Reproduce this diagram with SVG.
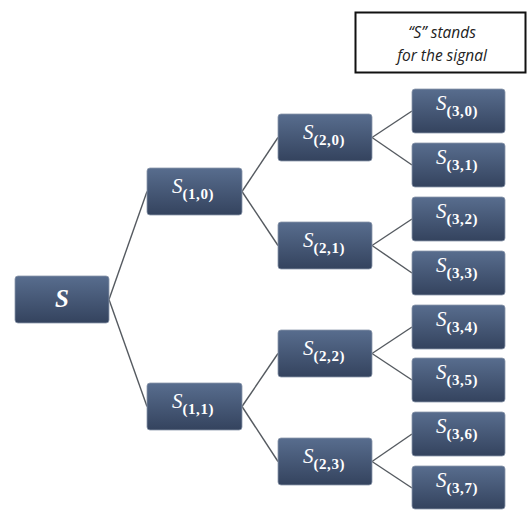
<svg xmlns="http://www.w3.org/2000/svg" width="530" height="510" viewBox="0 0 530 510">
<defs>
<linearGradient id="g" x1="0" y1="0" x2="0" y2="1">
<stop offset="0" stop-color="#586d8e"/>
<stop offset="1" stop-color="#34435e"/>
</linearGradient>
<style>
.box{fill:url(#g);stroke:#8a97ab;stroke-width:0.8}
.t{fill:#ffffff;font-family:"Liberation Serif","DejaVu Serif",serif;text-anchor:middle}
.s{font-style:italic;font-size:21px}
.sub{font-size:15px;font-weight:bold;letter-spacing:0.6px}
.c line{stroke:#555a60;stroke-width:1.4}
.note{font-family:"Open Sans","Liberation Sans",sans-serif;font-style:italic;font-size:15.5px;fill:#222;text-anchor:middle}
</style>
</defs>
<rect width="530" height="510" fill="#ffffff"/>
<g id="legend">
<rect x="355.5" y="12.5" width="170" height="60" fill="#fff" stroke="#111" stroke-width="2"/>
<text class="note" x="442" y="38">“S” stands</text>
<text class="note" x="442" y="61">for the signal</text>
</g>
<g class="c" id="connectors">
<line x1="109" y1="299.5" x2="147" y2="191.5"/>
<line x1="109" y1="299.5" x2="147" y2="406.5"/>
<line x1="242" y1="191.5" x2="278" y2="137.5"/>
<line x1="242" y1="191.5" x2="278" y2="245.5"/>
<line x1="242" y1="406.5" x2="278" y2="353.5"/>
<line x1="242" y1="406.5" x2="278" y2="461.5"/>
<line x1="372" y1="137.5" x2="412" y2="111"/>
<line x1="372" y1="137.5" x2="412" y2="165"/>
<line x1="372" y1="245.5" x2="412" y2="219"/>
<line x1="372" y1="245.5" x2="412" y2="273"/>
<line x1="372" y1="353.5" x2="412" y2="327"/>
<line x1="372" y1="353.5" x2="412" y2="380"/>
<line x1="372" y1="461.5" x2="412" y2="434"/>
<line x1="372" y1="461.5" x2="412" y2="488"/>
</g>
<g id="S">
<rect class="box" x="15" y="276" width="94" height="47" rx="3"/>
<text class="t" x="62" y="307" style="font-style:italic;font-weight:bold;font-size:25px">S</text>
</g>
<g id="S10">
<rect class="box" x="147" y="168" width="95" height="47" rx="3"/>
<text class="t" x="193" y="193"><tspan class="s">S</tspan><tspan class="sub" dy="6">(1,0)</tspan></text>
</g>
<g id="S11">
<rect class="box" x="147" y="383" width="95" height="47" rx="3"/>
<text class="t" x="193" y="408"><tspan class="s">S</tspan><tspan class="sub" dy="6">(1,1)</tspan></text>
</g>
<g id="S20">
<rect class="box" x="278" y="114" width="94" height="47" rx="3"/>
<text class="t" x="324" y="139"><tspan class="s">S</tspan><tspan class="sub" dy="6">(2,0)</tspan></text>
</g>
<g id="S21">
<rect class="box" x="278" y="222" width="94" height="47" rx="3"/>
<text class="t" x="324" y="247"><tspan class="s">S</tspan><tspan class="sub" dy="6">(2,1)</tspan></text>
</g>
<g id="S22">
<rect class="box" x="278" y="330" width="94" height="47" rx="3"/>
<text class="t" x="324" y="355"><tspan class="s">S</tspan><tspan class="sub" dy="6">(2,2)</tspan></text>
</g>
<g id="S23">
<rect class="box" x="278" y="438" width="94" height="47" rx="3"/>
<text class="t" x="324" y="463"><tspan class="s">S</tspan><tspan class="sub" dy="6">(2,3)</tspan></text>
</g>
<g id="S30">
<rect class="box" x="412" y="89" width="93" height="44" rx="3"/>
<text class="t" x="457" y="110"><tspan class="s">S</tspan><tspan class="sub" dy="6">(3,0)</tspan></text>
</g>
<g id="S31">
<rect class="box" x="412" y="143" width="93" height="44" rx="3"/>
<text class="t" x="457" y="164"><tspan class="s">S</tspan><tspan class="sub" dy="6">(3,1)</tspan></text>
</g>
<g id="S32">
<rect class="box" x="412" y="197" width="93" height="44" rx="3"/>
<text class="t" x="457" y="218"><tspan class="s">S</tspan><tspan class="sub" dy="6">(3,2)</tspan></text>
</g>
<g id="S33">
<rect class="box" x="412" y="251" width="93" height="44" rx="3"/>
<text class="t" x="457" y="272"><tspan class="s">S</tspan><tspan class="sub" dy="6">(3,3)</tspan></text>
</g>
<g id="S34">
<rect class="box" x="412" y="305" width="93" height="44" rx="3"/>
<text class="t" x="457" y="326"><tspan class="s">S</tspan><tspan class="sub" dy="6">(3,4)</tspan></text>
</g>
<g id="S35">
<rect class="box" x="412" y="358" width="93" height="44" rx="3"/>
<text class="t" x="457" y="379"><tspan class="s">S</tspan><tspan class="sub" dy="6">(3,5)</tspan></text>
</g>
<g id="S36">
<rect class="box" x="412" y="412" width="93" height="44" rx="3"/>
<text class="t" x="457" y="433"><tspan class="s">S</tspan><tspan class="sub" dy="6">(3,6)</tspan></text>
</g>
<g id="S37">
<rect class="box" x="412" y="466" width="93" height="43" rx="3"/>
<text class="t" x="457" y="487"><tspan class="s">S</tspan><tspan class="sub" dy="6">(3,7)</tspan></text>
</g>
</svg>
